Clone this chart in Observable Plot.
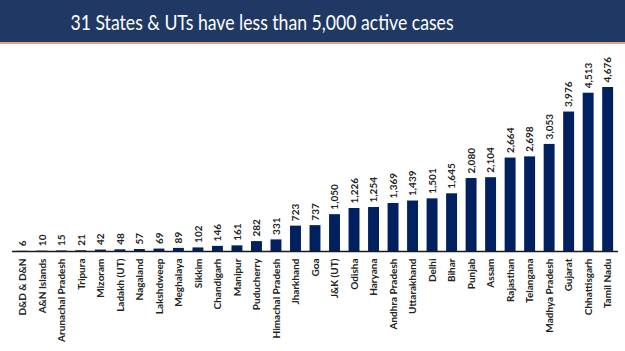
<!DOCTYPE html>
<html>
<head>
<meta charset="utf-8">
<script src="https://cdn.jsdelivr.net/npm/d3@7"></script>
<script src="https://cdn.jsdelivr.net/npm/@observablehq/plot@0.6"></script>
<style>
  html, body { margin: 0; padding: 0; background: #fff; width: 625px; height: 351px; overflow: hidden; }
  #banner { position: relative; height: 42px; background: #1F3864; border-bottom: 2px solid #E9A178; }
  #banner span { position: absolute; left: 262px; top: 21px; white-space: nowrap; color: #fff;
    font-family: Lato, "Open Sans", sans-serif; font-size: 21px; line-height: 1;
    transform: translate(-50%, -50%) scaleX(0.84); }
  #chart svg { display: block; }
</style>
</head>
<body>
<div id="banner"><span>31 States &amp; UTs have less than 5,000 active cases</span></div>
<div id="chart"></div>
<script>
const states = ["D&D & D&N","A&N Islands","Arunachal Pradesh","Tripura","Mizoram","Ladakh (UT)","Nagaland","Lakshdweep","Meghalaya","Sikkim","Chandigarh","Manipur","Puducherry","Himachal Pradesh","Jharkhand","Goa","J&K (UT)","Odisha","Haryana","Andhra Pradesh","Uttarakhand","Delhi","Bihar","Punjab","Assam","Rajasthan","Telangana","Madhya Pradesh","Gujarat","Chhattisgarh","Tamil Nadu"];
const activeCases = [6,10,15,21,42,48,57,69,89,102,146,161,282,331,723,737,1050,1226,1254,1369,1439,1501,1645,2080,2104,2664,2698,3053,3976,4513,4676];

const data = states.map((s, i) => ({state: s, value: activeCases[i]}));
const fmt = d3.format(",");

const chart = Plot.plot({
  width: 625,
  height: 307,
  marginTop: 43,
  marginBottom: 100,
  marginLeft: 12,
  marginRight: 7,
  style: {fontFamily: "Lato, 'Open Sans', sans-serif", background: "#fff"},
  x: {domain: states, paddingInner: 0.44, paddingOuter: 0.25, round: false, label: null},
  y: {domain: [0, 4676], axis: null},
  marks: [
    Plot.barY(data, {x: "state", y: "value", fill: "#002060"}),
    Plot.ruleY([0], {stroke: "#1a1a1a", strokeWidth: 1.5}),
    Plot.text(data, {x: "state", y: "value", text: d => fmt(d.value), rotate: -90, textAnchor: "start", lineAnchor: "middle", dy: -5, fontSize: 10, fontWeight: "bold", fill: "#222"}),
    Plot.axisX({tickRotate: -90, tickSize: 0, tickPadding: 7, fontSize: 10, fontWeight: "bold", fill: "#222", label: null, textAnchor: "end"})
  ]
});
document.getElementById("chart").appendChild(chart);
</script>
</body>
</html>
